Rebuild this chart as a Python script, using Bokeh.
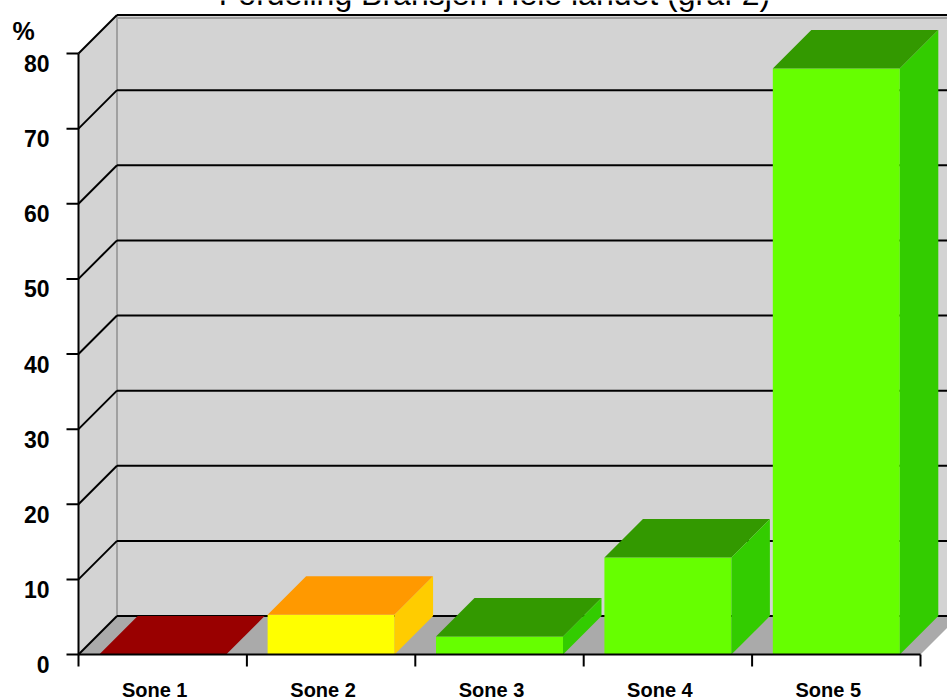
from bokeh.plotting import figure
from bokeh.models import Range1d
from bokeh.core.properties import value
from bokeh.embed import file_html
from bokeh.resources import INLINE

# ---- data ----
categories = ["Sone 1", "Sone 2", "Sone 3", "Sone 4", "Sone 5"]
values = [0.0, 5.3, 2.4, 12.9, 78.0]
y_ticks = [0, 10, 20, 30, 40, 50, 60, 70, 80]
y_tick_labels = ["0", "10", "20", "30", "40", "50", "60", "70", "80"]
front_colors = ["#990000", "#ffff00", "#66ff00", "#66ff00", "#66ff00"]
top_colors = ["#990000", "#ff9900", "#339900", "#339900", "#339900"]
side_colors = ["#990000", "#ffcc00", "#33cc00", "#33cc00", "#33cc00"]
title_text = "Fordeling Bransjen Hele landet (graf 2)"
unit_label = "%"

# ---- geometry (pixels -> data units) ----
W, H = 947, 700
LEFT, BOTTOM = 78, 46        # position of the chart origin on the canvas
PX_X = 168.4                 # pixels per category
PX_Y = 7.5125                # pixels per percent
DEPTH = 38.5                 # 3D depth in pixels
BAR_W = 0.754
N = len(categories)
YMAX = y_ticks[-1]

dx = DEPTH / PX_X
dy = DEPTH / PX_Y
x_end = (W - LEFT) / PX_X
y_end = (H - BOTTOM) / PX_Y
ext = x_end + 1.0
FONT = value("Liberation Sans")

p = figure(width=W, height=H,
           x_range=Range1d(-LEFT / PX_X, x_end), y_range=Range1d(-BOTTOM / PX_Y, y_end),
           output_backend="svg", toolbar_location=None,
           x_axis_location=None, y_axis_location=None,
           min_border=0, outline_line_color=None,
           background_fill_color="white", border_fill_color="white")
p.grid.visible = False

# walls and floor
p.quad(left=[dx], right=[ext], bottom=[dy], top=[YMAX + dy],
       fill_color="#d3d3d3", line_color=None)
p.patch([0, dx, dx, 0], [0, dy, YMAX + dy, YMAX], fill_color="#d3d3d3", line_color=None)
p.patch([0, N, N + dx, dx], [0, 0, dy, dy], fill_color="#aaaaaa", line_color=None)
p.segment(x0=[dx], y0=[dy], x1=[dx], y1=[YMAX + dy], line_color="#a0a0a0", line_width=2)
p.segment(x0=[dx], y0=[YMAX + dy - 3 / PX_Y], x1=[ext], y1=[YMAX + dy - 3 / PX_Y],
          line_color="#a0a0a0", line_width=2)

# gridlines (diagonal on left wall + horizontal on back wall)
nt = len(y_ticks)
p.segment(x0=[0] * nt, y0=y_ticks, x1=[dx] * nt, y1=[t + dy for t in y_ticks],
          line_color="black", line_width=2)
p.segment(x0=[dx] * nt, y0=[t + dy for t in y_ticks], x1=[ext] * nt,
          y1=[t + dy for t in y_ticks], line_color="black", line_width=2)

# bars
centers = [i + 0.5 for i in range(N)]
lefts = [c - BAR_W / 2 for c in centers]
rights = [c + BAR_W / 2 for c in centers]
p.quad(left=lefts, right=rights, bottom=[0] * N, top=values,
       fill_color=front_colors, line_color=None)
p.patches([[l, r, r + dx, l + dx] for l, r in zip(lefts, rights)],
          [[v, v, v + dy, v + dy] for v in values],
          fill_color=top_colors, line_color=None)
p.patches([[r, r + dx, r + dx, r] for r in rights],
          [[0, dy, v + dy, v] for v in values],
          fill_color=side_colors, line_color=None)

# y axis: line, ticks, labels (labels sit ~10px below their ticks)
tick_len_x = 12 / PX_X
p.segment(x0=[0], y0=[0], x1=[0], y1=[YMAX], line_color="black", line_width=2)
p.segment(x0=[-tick_len_x] * nt, y0=y_ticks, x1=[0] * nt, y1=y_ticks,
          line_color="black", line_width=2)
p.text(x=[-29 / PX_X] * nt, y=[t - 10 / PX_Y for t in y_ticks], text=y_tick_labels,
       text_font=FONT, text_font_style="bold", text_font_size=value("23px"),
       text_align="right", text_baseline="middle", text_color="black")

# x axis: line, boundary ticks, category labels
bounds_x = list(range(N + 1))
tick_len_y = 12 / PX_Y
p.segment(x0=[0], y0=[0], x1=[N], y1=[0], line_color="black", line_width=2)
p.segment(x0=bounds_x, y0=[0] * (N + 1), x1=bounds_x, y1=[-tick_len_y] * (N + 1),
          line_color="black", line_width=2)
p.text(x=[c - 8 / PX_X for c in centers], y=[-24 / PX_Y] * N, text=categories,
       text_font=FONT, text_font_style="bold", text_font_size=value("20px"),
       text_align="center", text_baseline="top", text_color="black")

# unit label and (clipped) title
p.text(x=[(23 - LEFT) / PX_X], y=[(H - BOTTOM - 30) / PX_Y], text=[unit_label],
       text_font=FONT, text_font_style="bold", text_font_size=value("25px"),
       text_align="center", text_baseline="middle", text_color="black")
p.text(x=[(494 - LEFT) / PX_X], y=[(H - BOTTOM + 7) / PX_Y], text=[title_text],
       text_font=FONT, text_font_size=value("32px"),
       text_align="center", text_baseline="alphabetic", text_color="black")

open("out.html", "w").write(file_html(p, INLINE))
